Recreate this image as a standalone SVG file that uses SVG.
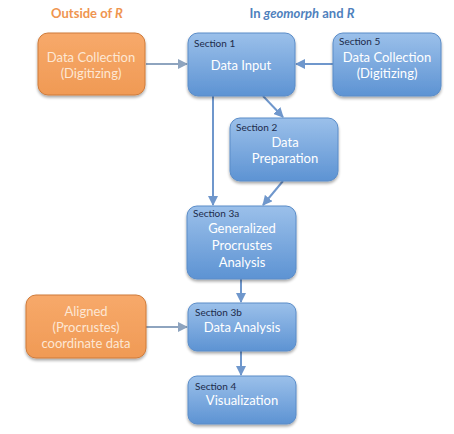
<svg xmlns="http://www.w3.org/2000/svg" width="454" height="434" viewBox="0 0 454 434">
<defs>
<linearGradient id="gb" x1="0" y1="0" x2="0" y2="1">
<stop offset="0" stop-color="#9bc0ea"/>
<stop offset="1" stop-color="#5d93d3"/>
</linearGradient>
<linearGradient id="go" x1="0" y1="0" x2="0" y2="1">
<stop offset="0" stop-color="#f7a96a"/>
<stop offset="1" stop-color="#f09a55"/>
</linearGradient>
<filter id="sh" x="-10%" y="-10%" width="130%" height="130%">
<feGaussianBlur in="SourceAlpha" stdDeviation="1.5"/>
<feOffset dx="0" dy="2" result="b"/>
<feComponentTransfer><feFuncA type="linear" slope="0.35"/></feComponentTransfer>
<feMerge><feMergeNode/><feMergeNode in="SourceGraphic"/></feMerge>
</filter>
<marker id="ah" viewBox="0 0 10 10" refX="9" refY="5" markerWidth="5" markerHeight="5" orient="auto">
<path d="M0,0 L10,5 L0,10 z" fill="#6f97cc"/>
</marker>
<marker id="ag" viewBox="0 0 10 10" refX="9" refY="5" markerWidth="5" markerHeight="5" orient="auto">
<path d="M0,0 L10,5 L0,10 z" fill="#8ea4bf"/>
</marker>
</defs>
<style>
.blue{fill:url(#gb);stroke:#5a8cc8;stroke-width:1;filter:url(#sh)}
.orange{fill:url(#go);stroke:#cf7b3a;stroke-width:1;filter:url(#sh)}
.sec{font-family:Lato,"Liberation Sans",sans-serif;font-size:10px;fill:#1d2b4a}
.main{font-family:Lato,"Liberation Sans",sans-serif;font-size:13px;fill:#ffffff;text-anchor:middle}
.mainO{font-family:Lato,"Liberation Sans",sans-serif;font-size:13px;fill:#fde7d4;text-anchor:middle}
.title{font-family:Lato,"Liberation Sans",sans-serif;font-size:13px;font-weight:bold;text-anchor:middle}
.c{stroke:#6f97cc;stroke-width:2;fill:none;marker-end:url(#ah)}
.cg{stroke:#8ea4bf;stroke-width:2;fill:none;marker-end:url(#ag)}
</style>
<text class="title" x="87" y="18" fill="#ef9550">Outside of <tspan font-style="italic">R</tspan></text>
<text class="title" x="302" y="18" fill="#4f81bd">In <tspan font-style="italic">geomorph</tspan> and <tspan font-style="italic">R</tspan></text>
<g id="connectors">
<line class="cg" x1="146" y1="64" x2="187" y2="64"/>
<line class="c" x1="333" y1="64" x2="296" y2="64"/>
<line class="c" x1="263" y1="96" x2="283" y2="117"/>
<line class="c" x1="213" y1="96" x2="213" y2="205"/>
<line class="c" x1="283" y1="181" x2="263" y2="205"/>
<line class="c" x1="241" y1="279" x2="241" y2="302"/>
<line class="cg" x1="146" y1="327" x2="187" y2="327"/>
<line class="c" x1="241" y1="351" x2="241" y2="375"/>
</g>
<g id="outside1">
<rect class="orange" x="38" y="33" width="107" height="62" rx="10"/>
<text class="mainO" x="91" y="62">Data Collection</text>
<text class="mainO" x="91" y="78">(Digitizing)</text>
</g>
<g id="sec1">
<rect class="blue" x="188" y="33" width="107" height="63" rx="10"/>
<text class="sec" x="194" y="47">Section 1</text>
<text class="main" x="241" y="70">Data Input</text>
</g>
<g id="sec5">
<rect class="blue" x="333" y="33" width="108" height="63" rx="10"/>
<text class="sec" x="339" y="45">Section 5</text>
<text class="main" x="387" y="62">Data Collection</text>
<text class="main" x="387" y="78">(Digitizing)</text>
</g>
<g id="sec2">
<rect class="blue" x="230" y="118" width="108" height="63" rx="10"/>
<text class="sec" x="236" y="131">Section 2</text>
<text class="main" x="285" y="147">Data</text>
<text class="main" x="285" y="163">Preparation</text>
</g>
<g id="sec3a">
<rect class="blue" x="187" y="206" width="109" height="73" rx="10"/>
<text class="sec" x="193" y="217">Section 3a</text>
<text class="main" x="242" y="233">Generalized</text>
<text class="main" x="242" y="250">Procrustes</text>
<text class="main" x="242" y="267">Analysis</text>
</g>
<g id="sec3b">
<rect class="blue" x="188" y="303" width="108" height="48" rx="9"/>
<text class="sec" x="195" y="316">Section 3b</text>
<text class="main" x="242" y="332">Data Analysis</text>
</g>
<g id="sec4">
<rect class="blue" x="188" y="376" width="108" height="48" rx="9"/>
<text class="sec" x="195" y="390">Section 4</text>
<text class="main" x="242" y="405">Visualization</text>
</g>
<g id="outside2">
<rect class="orange" x="26" y="295" width="120" height="63" rx="10"/>
<text class="mainO" x="86" y="316">Aligned</text>
<text class="mainO" x="86" y="332">(Procrustes)</text>
<text class="mainO" x="86" y="348">coordinate data</text>
</g>
</svg>
